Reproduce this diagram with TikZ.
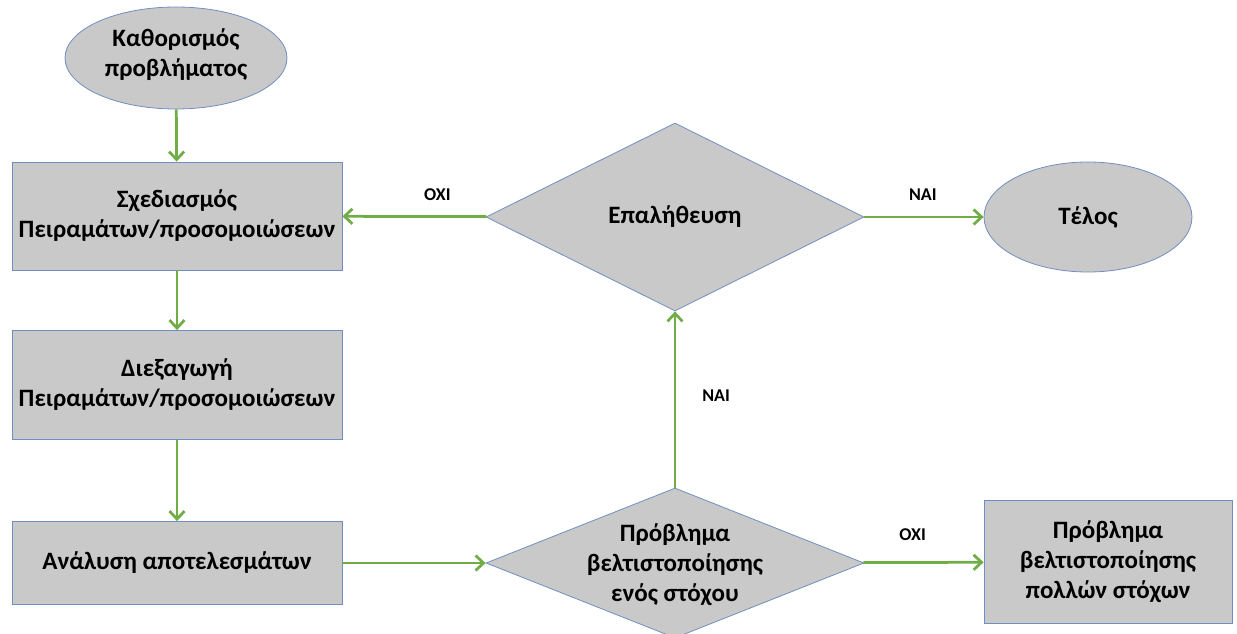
\documentclass[tikz,border=0pt]{standalone}
\usepackage{fontspec}
\setmainfont{Carlito}
\usetikzlibrary{shapes.geometric,arrows.meta}
\definecolor{boxgray}{RGB}{201,201,201}
\definecolor{edgeblue}{RGB}{114,142,192}
\definecolor{arrowgreen}{RGB}{112,173,71}
\begin{document}
\begin{tikzpicture}[x=1pt,y=-1pt,>={Straight Barb[length=8pt,width=15pt]},
    every node/.style={font=\bfseries\fontsize{25}{30}\selectfont,align=center},
    stepbox/.style={draw=edgeblue,fill=boxgray,line width=0.8pt,inner xsep=2pt,minimum width=330pt},
    startend/.style={ellipse,draw=edgeblue,fill=boxgray,line width=0.8pt,inner sep=0pt},
    test/.style={diamond,draw=edgeblue,fill=boxgray,line width=0.8pt,inner sep=0pt},
    flow/.style={->,draw=arrowgreen,line width=2.75pt},
    lbl/.style={font=\bfseries\fontsize{18}{20}\selectfont,inner sep=0pt}]
    \useasboundingbox (0,0) rectangle (1237,634);
    \node[startend,minimum width=222pt,minimum height=102pt,text depth=10pt](define) at (176,58){Καθορισμός\\προβλήματος};
    \node[stepbox,minimum height=108pt](design) at (177,216){Σχεδιασμός\\Πειραμάτων/προσομοιώσεων};
    \node[stepbox,minimum height=109pt](run) at (177,385){Διεξαγωγή\\Πειραμάτων/προσομοιώσεων};
    \node[stepbox,minimum height=83pt](analysis) at (177,563){Ανάλυση αποτελεσμάτων};
    \node[test,minimum width=378pt,minimum height=188pt](verify) at (675,217){Επαλήθευση};
    % text is allowed to run over the diamond's sides
    \node[test,minimum width=378pt,minimum height=150pt](single) at (675,563)
        {\smash{\makebox[0pt]{\raisebox{-9pt}{\begin{tabular}{@{}c@{}}Πρόβλημα\\βελτιστοποίησης\\ενός στόχου\end{tabular}}}}};
    \node[startend,minimum width=208pt,minimum height=110pt](finish) at (1088,217){Τέλος};
    \node[stepbox,minimum width=248pt,minimum height=123pt](multi) at (1108,562){Πρόβλημα\\βελτιστοποίησης\\πολλών στόχων};
    \draw[flow](define)--(design);
    \draw[flow](design)--(run);
    \draw[flow](run)--(analysis);
    \draw[flow](analysis)--(single);
    \draw[flow](single)--node[lbl,pos=0.52,right=26pt]{ΝΑΙ}(verify);
    \draw[flow](verify)--node[lbl,pos=0.34,above=15pt]{ΟΧΙ}(design);
    \draw[flow](verify)--node[lbl,pos=0.49,above=15pt]{ΝΑΙ}(finish);
    \draw[flow](single)--node[lbl,pos=0.41,above=20pt]{ΟΧΙ}(multi);
\end{tikzpicture}
\end{document}
